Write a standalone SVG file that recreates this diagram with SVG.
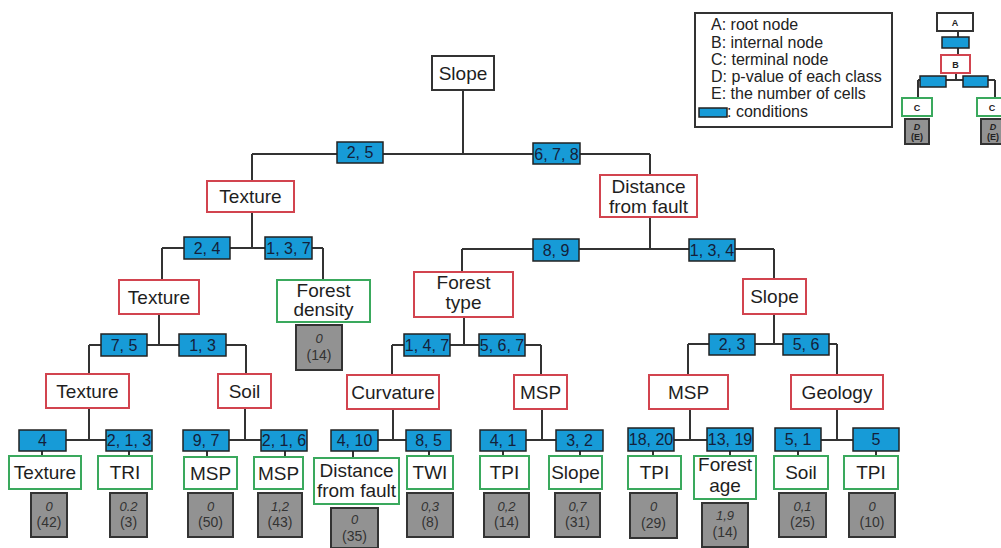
<svg xmlns="http://www.w3.org/2000/svg" width="1001" height="548" viewBox="0 0 1001 548">
<style>
.ln{stroke:#333;stroke-width:2;fill:none}
.cond{fill:#179bd7;stroke:#222;stroke-width:1.5}
.root{fill:#fff;stroke:#333;stroke-width:2}
.int{fill:#fff;stroke:#d2444f;stroke-width:2}
.term{fill:#fff;stroke:#3aa95d;stroke-width:2}
.gray{fill:#929292;stroke:#333;stroke-width:2}
text{font-family:"Liberation Sans",Arial,sans-serif}
.nt{font-size:19px;fill:#1e1e1e;text-anchor:middle}
.ct{font-size:16px;fill:#14213a;text-anchor:middle}
.gv{font-size:13px;font-style:italic;fill:#333;text-anchor:middle}
.gc{font-size:14px;fill:#333;text-anchor:middle}
.lg{font-size:16px;fill:#222}
.mt{font-size:9px;font-weight:bold;fill:#222;text-anchor:middle}
</style>
<rect width="1001" height="548" fill="#fff"/>
<g id="connectors">
<path class="ln" d="M463,90V154M252,154H650M252,154V181M650,154V175"/>
<path class="ln" d="M252,212V248M162,248H323M162,248V280M323,248V280"/>
<path class="ln" d="M159,314V345M89,345H246M89,345V374M246,345V374"/>
<path class="ln" d="M89,408V440M66,440H106M42,451V456M129,451V456"/>
<path class="ln" d="M245,408V440M229,440H261M207,451V456M285,451V456"/>
<path class="ln" d="M650,217V249M462,249H774M462,249V272M774,249V279"/>
<path class="ln" d="M464,317V345M392,345H541M392,345V375M541,345V375"/>
<path class="ln" d="M393,409V440M378,440H406M353,451V458M429,451V456"/>
<path class="ln" d="M542,409V440M526,440H556M503,451V456M580,451V456"/>
<path class="ln" d="M774,314V344M688,344H837M688,344V375M837,344V375"/>
<path class="ln" d="M690,409V440M674,440H707M653,451V456M730,451V456"/>
<path class="ln" d="M837,409V440M821,440H853M798,451V456M876,451V456"/>
</g>
<g id="conditions">
<rect class="cond" x="337" y="142" width="46" height="21"/><text class="ct" x="360" y="158">2, 5</text>
<rect class="cond" x="533" y="143" width="47" height="21"/><text class="ct" x="556.5" y="159.5">6, 7, 8</text>
<rect class="cond" x="184" y="237" width="46" height="22"/><text class="ct" x="207" y="253.5">2, 4</text>
<rect class="cond" x="265" y="237" width="47" height="22"/><text class="ct" x="288.5" y="253.5">1, 3, 7</text>
<rect class="cond" x="101" y="334" width="46" height="22"/><text class="ct" x="124" y="350.5">7, 5</text>
<rect class="cond" x="179" y="334" width="47" height="22"/><text class="ct" x="202.5" y="350.5">1, 3</text>
<rect class="cond" x="19" y="430" width="47" height="21"/><text class="ct" x="42.5" y="446">4</text>
<rect class="cond" x="106" y="430" width="46" height="21"/><text class="ct" x="129" y="446">2, 1, 3</text>
<rect class="cond" x="183" y="430" width="46" height="21"/><text class="ct" x="206" y="446">9, 7</text>
<rect class="cond" x="261" y="430" width="46" height="21"/><text class="ct" x="284" y="446">2, 1, 6</text>
<rect class="cond" x="533" y="239" width="46" height="22"/><text class="ct" x="556" y="255.5">8, 9</text>
<rect class="cond" x="689" y="239" width="46" height="22"/><text class="ct" x="712" y="255.5">1, 3, 4</text>
<rect class="cond" x="404" y="334" width="46" height="22"/><text class="ct" x="427" y="350.5">1, 4, 7</text>
<rect class="cond" x="479" y="334" width="46" height="22"/><text class="ct" x="502" y="350.5">5, 6, 7</text>
<rect class="cond" x="709" y="334" width="46" height="21"/><text class="ct" x="732" y="350">2, 3</text>
<rect class="cond" x="783" y="334" width="46" height="21"/><text class="ct" x="806" y="350">5, 6</text>
<rect class="cond" x="331" y="430" width="47" height="21"/><text class="ct" x="354.5" y="446">4, 10</text>
<rect class="cond" x="406" y="430" width="45" height="21"/><text class="ct" x="428.5" y="446">8, 5</text>
<rect class="cond" x="480" y="430" width="46" height="21"/><text class="ct" x="503" y="446">4, 1</text>
<rect class="cond" x="556" y="430" width="47" height="21"/><text class="ct" x="579.5" y="446">3, 2</text>
<rect class="cond" x="628" y="428" width="46" height="23"/><text class="ct" x="651" y="445">18, 20</text>
<rect class="cond" x="707" y="428" width="46" height="23"/><text class="ct" x="730" y="445">13, 19</text>
<rect class="cond" x="775" y="428" width="46" height="23"/><text class="ct" x="798" y="445">5, 1</text>
<rect class="cond" x="853" y="428" width="46" height="23"/><text class="ct" x="876" y="445">5</text>
</g>
<g id="n-root"><rect class="root" x="432" y="56" width="62" height="34"/><text class="nt" x="463" y="79.5">Slope</text></g>
<g id="n-texture1"><rect class="int" x="207" y="181" width="87" height="31"/><text class="nt" x="250.5" y="203">Texture</text></g>
<g id="n-distance"><rect class="int" x="600" y="175" width="97" height="42"/><text class="nt" x="648.5" y="193">Distance</text><text class="nt" x="648.5" y="213">from fault</text></g>
<g id="n-texture2"><rect class="int" x="119" y="280" width="80" height="34"/><text class="nt" x="159" y="303.5">Texture</text></g>
<g id="n-forestdensity"><rect class="term" x="277" y="280" width="93" height="42"/><text class="nt" x="323.5" y="297">Forest</text><text class="nt" x="323.5" y="316">density</text></g>
<g id="g-forestdensity"><rect class="gray" x="296" y="325" width="46" height="45"/><text class="gv" x="319" y="343">0</text><text class="gc" x="319" y="360">(14)</text></g>
<g id="n-texture3"><rect class="int" x="46" y="374" width="83" height="34"/><text class="nt" x="87.5" y="397.5">Texture</text></g>
<g id="n-soil1"><rect class="int" x="218" y="374" width="53" height="34"/><text class="nt" x="244.5" y="397.5">Soil</text></g>
<g id="n-foresttype"><rect class="int" x="414" y="272" width="99" height="45"/><text class="nt" x="463.5" y="288.5">Forest</text><text class="nt" x="463.5" y="309">type</text></g>
<g id="n-slope2"><rect class="int" x="743" y="279" width="63" height="35"/><text class="nt" x="774.5" y="303">Slope</text></g>
<g id="n-curvature"><rect class="int" x="347" y="375" width="92" height="34"/><text class="nt" x="393" y="398.5">Curvature</text></g>
<g id="n-msp-mid"><rect class="int" x="514" y="375" width="53" height="34"/><text class="nt" x="540.5" y="398.5">MSP</text></g>
<g id="n-msp-right"><rect class="int" x="649" y="375" width="79" height="34"/><text class="nt" x="688.5" y="398.5">MSP</text></g>
<g id="n-geology"><rect class="int" x="791" y="375" width="92" height="34"/><text class="nt" x="837" y="398.5">Geology</text></g>
<g id="t-texture"><rect class="term" x="9" y="456" width="72" height="33"/><text class="nt" x="45" y="479">Texture</text><rect class="gray" x="31" y="493" width="36" height="44"/><text class="gv" x="49" y="511">0</text><text class="gc" x="49" y="527">(42)</text></g>
<g id="t-tri"><rect class="term" x="98" y="456" width="54" height="33"/><text class="nt" x="125" y="479">TRI</text><rect class="gray" x="110" y="493" width="37" height="44"/><text class="gv" x="128.5" y="511">0.2</text><text class="gc" x="128.5" y="527">(3)</text></g>
<g id="t-msp1"><rect class="term" x="184" y="457" width="53" height="32"/><text class="nt" x="210.5" y="480">MSP</text><rect class="gray" x="188" y="493" width="45" height="44"/><text class="gv" x="210.5" y="511">0</text><text class="gc" x="210.5" y="527">(50)</text></g>
<g id="t-msp2"><rect class="term" x="254" y="457" width="49" height="32"/><text class="nt" x="278.5" y="480">MSP</text><rect class="gray" x="258" y="493" width="44" height="44"/><text class="gv" x="280" y="511">1,2</text><text class="gc" x="280" y="527">(43)</text></g>
<g id="t-distance"><rect class="term" x="314" y="458" width="85" height="46"/><text class="nt" x="356.5" y="477">Distance</text><text class="nt" x="356.5" y="497">from fault</text><rect class="gray" x="331" y="508" width="47" height="40"/><text class="gv" x="354.5" y="524">0</text><text class="gc" x="354.5" y="541">(35)</text></g>
<g id="t-twi"><rect class="term" x="407" y="456" width="46" height="33"/><text class="nt" x="430" y="479">TWI</text><rect class="gray" x="407" y="493" width="46" height="44"/><text class="gv" x="430" y="511">0,3</text><text class="gc" x="430" y="527">(8)</text></g>
<g id="t-tpi1"><rect class="term" x="480" y="456" width="49" height="33"/><text class="nt" x="504.5" y="479">TPI</text><rect class="gray" x="484" y="493" width="45" height="44"/><text class="gv" x="506.5" y="511">0,2</text><text class="gc" x="506.5" y="527">(14)</text></g>
<g id="t-slope"><rect class="term" x="549" y="456" width="53" height="33"/><text class="nt" x="575.5" y="479">Slope</text><rect class="gray" x="555" y="493" width="45" height="44"/><text class="gv" x="577.5" y="511">0,7</text><text class="gc" x="577.5" y="527">(31)</text></g>
<g id="t-tpi2"><rect class="term" x="628" y="456" width="53" height="33"/><text class="nt" x="654.5" y="479">TPI</text><rect class="gray" x="630" y="493" width="47" height="45"/><text class="gv" x="653.5" y="511">0</text><text class="gc" x="653.5" y="528">(29)</text></g>
<g id="t-forestage"><rect class="term" x="694" y="456" width="62" height="43"/><text class="nt" x="725" y="471">Forest</text><text class="nt" x="725" y="491.5">age</text><rect class="gray" x="702" y="503" width="46" height="44"/><text class="gv" x="725" y="520">1,9</text><text class="gc" x="725" y="537">(14)</text></g>
<g id="t-soil"><rect class="term" x="774" y="456" width="54" height="33"/><text class="nt" x="801" y="479">Soil</text><rect class="gray" x="779" y="493" width="47" height="44"/><text class="gv" x="802.5" y="511">0,1</text><text class="gc" x="802.5" y="527">(25)</text></g>
<g id="t-tpi3"><rect class="term" x="844" y="456" width="54" height="33"/><text class="nt" x="871" y="479">TPI</text><rect class="gray" x="849" y="493" width="46" height="44"/><text class="gv" x="872" y="511">0</text><text class="gc" x="872" y="527">(10)</text></g>
<g id="legend">
<rect x="695" y="13" width="197" height="114" fill="#fff" stroke="#333" stroke-width="2"/>
<text class="lg" x="711" y="30">A: root node</text>
<text class="lg" x="711" y="47.5">B: internal node</text>
<text class="lg" x="711" y="64.5">C: terminal node</text>
<text class="lg" x="711" y="82">D: p-value of each class</text>
<text class="lg" x="711" y="99">E: the number of cells</text>
<rect class="cond" x="699" y="108" width="28" height="9"/>
<text class="lg" x="727" y="117">: conditions</text>
</g>
<g id="legend-tree">
<path class="ln" stroke-width="1.5" d="M958,31V55M956,73V80M918,80H995M918,80V98M995,80V98"/>
<rect class="root" x="937" y="13" width="36" height="18" stroke-width="1.5"/><text class="mt" x="955" y="25.5">A</text>
<rect class="cond" x="942" y="37" width="27" height="11"/>
<rect class="int" x="941" y="55" width="29" height="18" stroke-width="1.5"/><text class="mt" x="955.5" y="67.5">B</text>
<rect class="cond" x="920" y="76" width="26" height="11"/>
<rect class="cond" x="963" y="76" width="25" height="11"/>
<rect class="term" x="902" y="98" width="30" height="18" stroke-width="1.5"/><text class="mt" x="917" y="110.5">C</text>
<rect class="term" x="977" y="98" width="30" height="18" stroke-width="1.5"/><text class="mt" x="992" y="110.5">C</text>
<rect class="gray" x="905" y="119" width="24" height="25" stroke-width="1.5"/><text class="mt" x="917" y="130" font-style="italic" font-size="8">D</text><text class="mt" x="917" y="140" font-size="7" font-weight="normal">(E)</text>
<rect class="gray" x="981" y="119" width="24" height="25" stroke-width="1.5"/><text class="mt" x="993" y="130" font-style="italic" font-size="8">D</text><text class="mt" x="993" y="140" font-size="7" font-weight="normal">(E)</text>
</g>
</svg>
